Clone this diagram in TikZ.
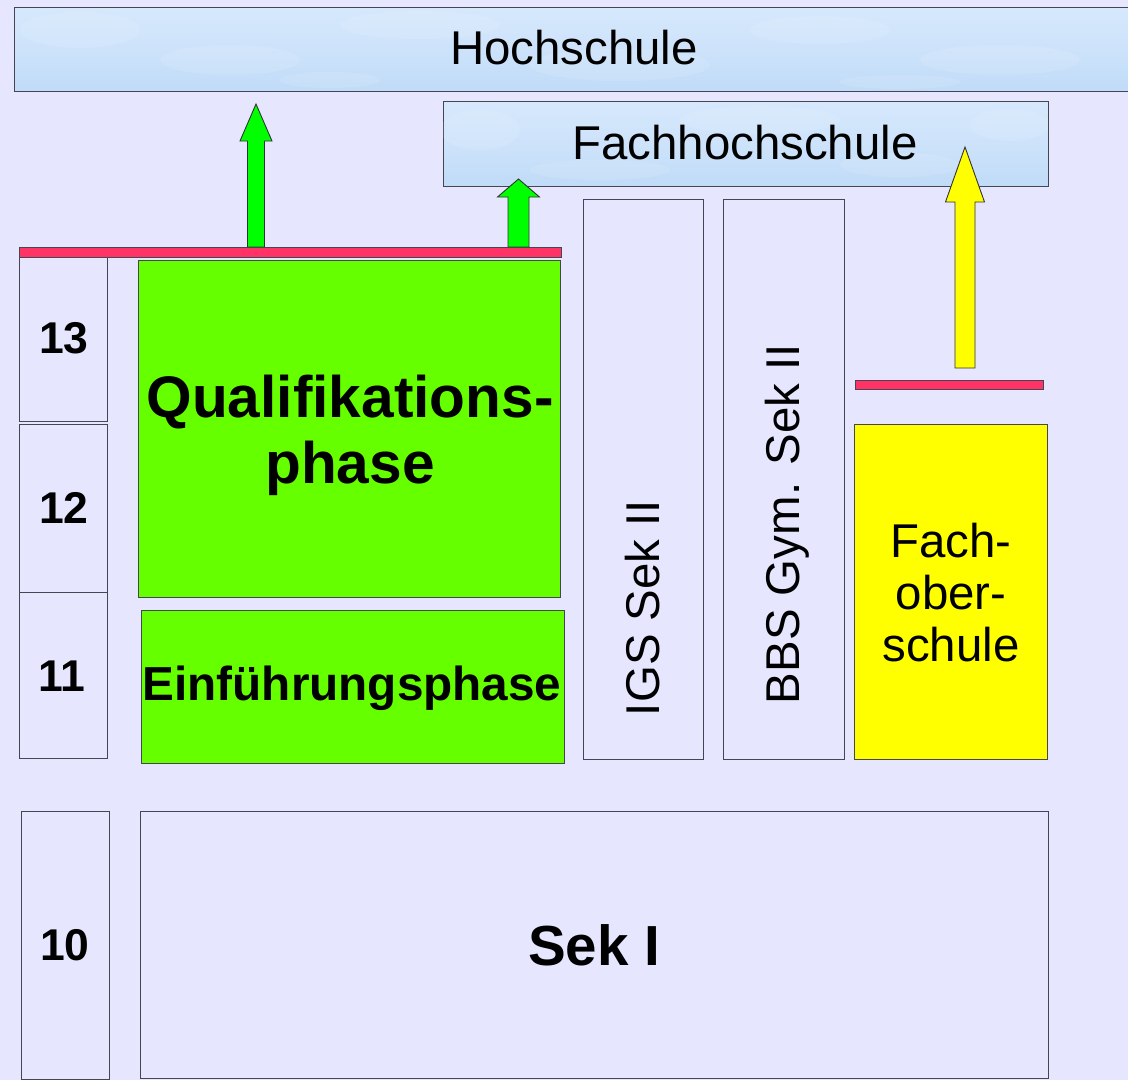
\documentclass[tikz,border=0pt]{standalone}
\usepackage{fontspec}
\setmainfont{Liberation Sans}
\definecolor{bgcol}{RGB}{230,230,255}
\definecolor{edgecol}{RGB}{70,70,82}
\definecolor{boxgreen}{RGB}{102,255,0}
\definecolor{arrgreen}{RGB}{0,255,0}
\definecolor{barred}{RGB}{255,51,102}
\definecolor{fosyellow}{RGB}{255,255,0}
\definecolor{cloudA}{RGB}{214,232,252}
\definecolor{cloudB}{RGB}{192,219,248}
\tikzset{
  plainbox/.style={draw=edgecol, line width=1pt, fill=bgcol, inner sep=0pt, outer sep=0pt, anchor=north west},
  greenbox/.style={plainbox, fill=boxgreen},
  yellowbox/.style={plainbox, fill=fosyellow},
  redbar/.style={plainbox, fill=barred},
  cloudbox/.style={plainbox, top color=cloudA, bottom color=cloudB, middle color=cloudA!60!cloudB},
  lbl/.style={inner sep=0pt, font=\fontsize{47.4}{52}\selectfont},
  yearlbl/.style={inner sep=0pt, font=\fontsize{44.5}{48}\selectfont\bfseries},
  blockarrow/.style={draw=black!80, line width=0.9pt},
}
\newcommand{\blockarr}[7]{% x, bottom, headbase, tip, halfshaft, halfhead, colour
  \filldraw[blockarrow, fill=#7] (#1-#5,#2) -- (#1-#5,#3) -- (#1-#6,#3) -- (#1,#4) -- (#1+#6,#3) -- (#1+#5,#3) -- (#1+#5,#2) -- cycle;}
\begin{document}
\begin{tikzpicture}[x=1pt,y=-1pt]
\useasboundingbox (0,0) rectangle (1128,1080);
\clip (0,0) rectangle (1128,1080);
\fill[bgcol] (0,0) rectangle (1128,1080);

% university banners
\node[cloudbox, minimum width=1130, minimum height=84] (hs) at (14,7) {};
\begin{scope}
  \clip (14,7) rectangle (1128,91);
  \foreach \cx/\cy/\rx/\ry in {80/30/60/18, 230/60/70/15, 420/25/80/14, 620/65/90/16, 820/30/70/14, 1000/60/80/15, 330/80/50/8, 900/82/60/7}
    \fill[white, opacity=0.1] (\cx,\cy) ellipse [x radius=\rx, y radius=\ry];
\end{scope}
\node[lbl] (hslbl) at (574,48) {Hochschule};

\node[cloudbox, minimum width=605, minimum height=85] (fhs) at (443,101) {};
\begin{scope}
  \clip (443,101) rectangle (1048,186);
  \foreach \cx/\cy/\rx/\ry in {480/130/40/20, 600/170/70/10, 760/120/80/14, 900/165/60/12, 1010/125/40/16}
    \fill[white, opacity=0.1] (\cx,\cy) ellipse [x radius=\rx, y radius=\ry];
\end{scope}
\node[lbl] (fhslbl) at (745,143) {Fachhochschule};

% year boxes
\node[plainbox, minimum width=88, minimum height=164] (y13) at (19,257) {};
\node[plainbox, minimum width=88, minimum height=168] (y12) at (19,424) {};
\node[plainbox, minimum width=88, minimum height=166] (y11) at (19,592) {};
\node[plainbox, minimum width=88, minimum height=268] (y10) at (21,811) {};
\node[yearlbl] (l13) at (64,338) {13};
\node[yearlbl] (l12) at (64,508) {12};
\node[yearlbl] (l11) at (62,676) {11};
\node[yearlbl] (l10) at (65,945) {10};

% gymnasiale Oberstufe
\node[redbar, minimum width=542, minimum height=10] (bar1) at (19,247) {};
\node[greenbox, minimum width=422, minimum height=337] (qp) at (138,260) {};
\node[inner sep=0pt, align=center, font=\fontsize{58.6}{66}\selectfont\bfseries] (qplbl) at (350,435) {Qualifikations-\\phase};
\node[greenbox, minimum width=423, minimum height=153] (ep) at (141,610) {};
\node[inner sep=0pt, font=\fontsize{47.7}{52}\selectfont\bfseries] (eplbl) at (352,688) {Einführungsphase};

% IGS, BBS
\node[plainbox, minimum width=120, minimum height=560] (igs) at (583,199) {};
\node[lbl, rotate=90] (igslbl) at (643,608) {IGS Sek II};
\node[plainbox, minimum width=121, minimum height=560] (bbs) at (723,199) {};
\node[lbl, rotate=90] (bbslbl) at (787,524) {BBS Gym. Sek II};

% Fachoberschule
\node[redbar, minimum width=188, minimum height=9] (bar2) at (855,380) {};
\node[yellowbox, minimum width=193, minimum height=335] (fos) at (854,424) {};
\node[lbl, align=center] (foslbl) at (951,593) {Fach-\\ober-\\schule};

% Sek I
\node[plainbox, minimum width=908, minimum height=267] (sek1) at (140,811) {};
\node[inner sep=0pt, font=\fontsize{56.5}{60}\selectfont\bfseries] (sek1lbl) at (594,945) {Sek I};

% arrows
\blockarr{256}{247}{141}{104}{8.5}{16}{arrgreen}
\blockarr{518.5}{247}{197}{179}{10.5}{21}{arrgreen}
\blockarr{965}{368}{202}{147}{10}{19.5}{fosyellow}
\end{tikzpicture}
\end{document}
